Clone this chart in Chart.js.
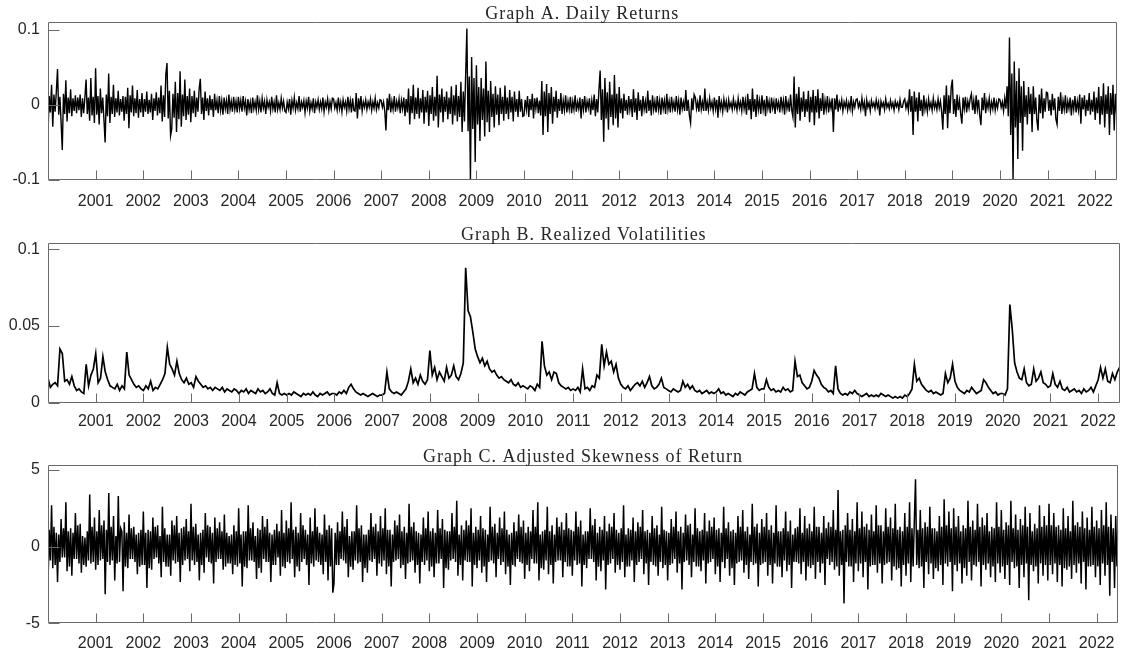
<!DOCTYPE html>
<html>
<head>
<meta charset="utf-8">
<script src="https://cdn.jsdelivr.net/npm/chart.js@4.4.1/dist/chart.umd.min.js"></script>
<style>
  html, body { margin: 0; padding: 0; background: #fff; }
  #wrap { position: relative; width: 1125px; height: 656px; overflow: hidden; }
  canvas { position: absolute; left: 0; }
</style>
</head>
<body>
<div id="wrap">
  <canvas id="chartA" width="1125" height="222" style="top:0"></canvas>
  <canvas id="chartB" width="1125" height="222" style="top:222px"></canvas>
  <canvas id="chartC" width="1125" height="212" style="top:444px"></canvas>
</div>
<script>
// values, starting Jan 2000; A and C at 40 per year, B at 20 per year
const firstYear = 2000;
const lastDate = 2022.45;

const yearTicks = [2001, 2002, 2003, 2004, 2005, 2006, 2007, 2008, 2009, 2010, 2011,
  2012, 2013, 2014, 2015, 2016, 2017, 2018, 2019, 2020, 2021, 2022];

// Graph A: daily returns (percent), 40 per year
const returnsPct = [
  -3.8, 1.2, -1.0, 2.7, -2.9, 1.4, -0.9, 1.8, 4.8, -1.3, 1.1, -2.3, -6.0, 1.5, -1.2, 3.3, -2.2, 1.0, -1.1, 2.1, -1.5, 0.9, -0.8, 1.3, -1.1, 1.0, -0.7, 1.4, -1.6, 0.9, -1.1, 1.0, 3.4, -1.2, 1.0, -2.1, 3.6, -1.4, 1.1, -2.4, // 2000
  4.9, -1.3, 1.2, -2.6, 2.2, -1.1, 1.0, -1.9, -5.0, 1.4, -1.5, 4.2, -2.4, 1.1, -1.2, 2.7, -1.6, 0.9, -1.0, 1.9, -1.4, 0.8, -0.9, 1.2, -2.1, 1.1, -1.2, 2.3, -3.1, 1.3, -1.0, 2.6, -1.5, 0.9, -1.1, 2.0, -1.7, 0.8, -1.0, 1.6, // 2001
  -1.6, 0.8, -0.9, 1.8, -1.2, 0.7, -1.0, 1.5, -2.0, 0.9, -0.8, 1.7, -1.4, 1.0, -1.1, 2.6, -2.2, 1.3, -1.6, 4.0, 5.6, -1.8, 1.9, -4.1, -3.2, 1.5, -1.7, 3.1, -3.6, 1.6, -1.9, 4.5, -2.9, 1.4, -1.5, 3.4, -2.0, 1.2, -1.3, 2.2, // 2002
  -2.3, 1.2, -1.1, 1.9, -1.6, 1.0, -0.9, 2.1, 3.5, -1.2, 1.0, -2.0, 1.8, -0.8, 0.9, -1.4, 1.3, -0.7, 0.8, -1.6, 1.5, -0.7, 0.6, -1.1, 1.2, -0.7, 0.6, -1.3, 1.0, -0.5, 0.6, -1.2, 1.4, -0.6, 0.5, -0.9, 1.1, -0.6, 0.5, -1.0, // 2003
  1.1, -0.5, 0.6, -0.9, 1.2, -0.4, 0.5, -1.4, 0.8, -0.6, 0.4, -1.1, 1.0, -0.5, 0.4, -0.7, 1.3, -0.6, 0.5, -1.0, 0.9, -0.4, 0.5, -1.2, 0.7, -0.3, 0.4, -0.8, 1.1, -0.5, 0.4, -1.0, 1.3, -0.6, 0.3, -0.6, 0.9, -0.4, 0.5, -0.8, // 2004
  -1.0, 0.4, -0.5, 0.8, -1.3, 0.6, -0.4, 1.0, -0.7, 0.3, -0.5, 1.2, -0.9, 0.4, -0.3, 0.6, -1.0, 0.5, -0.4, 1.1, -0.8, 0.3, -0.5, 0.9, -1.1, 0.4, -0.3, 0.7, -0.6, 0.4, -0.5, 1.0, -0.9, 0.4, -0.3, 0.8, -0.7, 0.4, -0.5, 0.9, // 2005
  0.8, -0.4, 0.3, -0.7, 1.0, -0.5, 0.4, -0.9, 0.7, -0.3, 0.4, -0.8, 1.1, -0.5, 0.6, -1.0, 0.9, -0.7, -0.8, 1.6, -1.8, 0.9, -0.6, 1.2, -0.8, 0.4, -0.3, 0.7, -0.6, 0.4, -0.3, 0.8, -0.7, 0.4, -0.4, 0.9, -0.6, 0.3, -0.4, 0.7, // 2006
  0.6, -0.3, 0.4, -0.8, -3.4, 0.9, -0.7, 1.5, -1.0, 0.5, -0.6, 1.2, -0.9, 0.5, -0.4, 0.8, -1.1, 0.6, -0.5, 1.0, -1.5, 0.8, -1.0, 2.2, -2.6, 1.2, -1.1, 2.7, -1.9, 1.0, -1.2, 2.3, -1.8, 0.9, -1.0, 2.0, -2.5, 1.1, -1.0, 1.9, // 2007
  -2.8, 1.3, -1.2, 2.4, -2.1, 1.1, -1.5, 3.9, -3.0, 1.4, -1.0, 2.2, -2.3, 1.1, -0.9, 1.8, -1.9, 1.0, -1.2, 2.5, -2.6, 1.3, -1.4, 2.7, -2.2, 1.2, -1.6, 3.1, -3.6, 1.8, -2.2, 4.2, 10.2, -3.5, 3.8, -10.0, 6.4, -3.2, 3.6, -7.6, // 2008
  5.3, -2.6, 2.4, -4.8, 3.6, -2.0, 2.2, -4.2, 5.8, -2.3, 1.9, -3.6, 3.2, -1.6, 1.5, -3.0, 2.5, -1.3, 1.4, -2.7, 2.3, -1.2, 1.1, -2.1, 2.6, -1.2, 1.0, -1.9, 2.0, -1.0, 1.1, -2.2, 1.8, -0.9, 0.8, -1.6, 1.9, -0.9, 0.8, -1.5, // 2009
  -1.4, 0.7, -0.6, 1.2, -1.6, 0.8, -0.7, 1.5, -1.8, 0.9, -0.5, 1.0, -1.1, 0.6, -1.4, 3.2, -4.0, 1.8, -1.5, 2.8, -3.6, 1.6, -1.2, 2.4, -2.5, 1.1, -0.9, 1.9, -1.7, 0.8, -0.8, 1.6, -1.2, 0.6, -0.7, 1.3, -1.0, 0.5, -0.6, 1.1, // 2010
  -1.1, 0.5, -0.6, 1.3, -0.9, 0.4, -0.5, 1.0, -1.8, 0.8, -0.6, 1.2, -1.0, 0.5, -0.4, 0.9, -1.3, 0.6, -0.7, 1.4, -1.5, 0.8, -1.0, 2.0, 4.6, -2.0, 2.1, -4.9, 3.6, -1.8, 1.7, -3.3, 3.1, -1.6, 1.4, -2.7, 4.0, -1.8, 1.5, -3.0, // 2011
  2.4, -1.1, 0.9, -1.8, 1.5, -0.8, 0.7, -1.3, 1.2, -0.6, 0.8, -1.6, 2.1, -1.0, 0.9, -2.0, 1.7, -0.8, 0.7, -1.5, 1.2, -0.6, 0.5, -1.1, 1.9, -0.8, 0.7, -1.4, 1.3, -0.6, 0.5, -1.0, 1.2, -0.6, 0.6, -1.3, 1.0, -0.5, 0.6, -1.2, // 2012
  1.5, -0.6, 0.5, -1.0, 1.1, -0.5, 0.4, -0.9, 1.2, -0.6, 0.6, -1.3, 1.0, -0.5, 0.4, -0.8, 2.0, -0.8, 0.7, -1.4, -2.4, 0.9, -0.7, 1.4, 1.0, -0.5, 0.4, -0.9, 1.3, -0.6, 0.4, -0.8, 2.2, -0.8, 0.4, -0.7, 0.9, -0.4, 0.4, -0.8, // 2013
  1.0, -0.5, 0.7, -1.7, 1.2, -0.5, 0.4, -0.9, 0.8, -0.4, 0.5, -1.0, 0.7, -0.3, 0.3, -0.6, 0.8, -0.4, 0.3, -0.7, 0.9, -0.4, 0.4, -0.8, 1.1, -0.5, 0.6, -1.3, 1.5, -0.7, 0.8, -1.9, 2.2, -0.9, 0.8, -1.6, 1.4, -0.6, 0.6, -1.2, // 2014
  1.3, -0.6, 0.7, -1.5, 1.2, -0.5, 0.5, -1.1, 1.0, -0.4, 0.5, -1.2, 0.9, -0.4, 0.4, -1.0, 1.1, -0.5, 0.6, -1.3, 1.2, -0.5, 0.4, -0.9, 1.4, -0.7, -1.6, 3.8, -3.0, 1.5, -1.2, 2.4, -2.1, 1.0, -0.9, 1.8, -1.6, 0.8, -0.9, 1.9, // 2015
  -2.3, 1.1, -1.0, 2.0, -2.7, 1.2, -1.0, 2.1, -1.8, 0.9, -0.8, 1.6, -1.3, 0.6, -0.6, 1.2, -1.0, 0.5, -0.4, 0.9, -3.6, 0.9, -0.6, 1.4, -0.9, 0.4, -0.3, 0.7, -0.8, 0.4, -0.3, 0.6, -0.7, 0.3, -0.5, 1.2, -0.8, 0.4, -0.3, 0.7, // 2016
  0.8, -0.3, 0.3, -0.6, 0.9, -0.4, 0.4, -1.5, 0.7, -0.3, 0.3, -0.8, 0.6, -0.2, 0.3, -0.5, 0.7, -0.3, 0.4, -1.4, 0.5, -0.2, 0.3, -0.6, 0.8, -0.3, 0.2, -0.5, 0.6, -0.3, 0.3, -0.7, 0.5, -0.2, 0.3, -0.6, 0.7, -0.3, -0.3, 0.5, // 2017
  0.8, -0.4, 0.3, -0.7, 2.1, -0.9, 1.2, -4.0, 1.8, -0.9, 1.0, -2.2, 1.7, -0.8, 0.7, -1.5, 1.3, -0.6, 0.4, -0.9, 0.8, -0.4, 0.3, -0.7, 0.9, -0.4, 0.3, -0.6, 0.8, -0.4, 0.5, -0.9, -3.3, 1.3, -1.2, 2.6, -3.1, 1.3, -1.1, 2.3, // 2018
  3.4, -1.2, 0.8, -1.6, 1.4, -0.7, 0.6, -1.2, -2.5, 1.0, -0.5, 1.1, -1.0, 0.5, -0.4, 0.9, 1.5, -0.7, 0.6, -1.2, 1.3, -0.6, 0.7, -1.4, -2.7, 1.0, -0.7, 1.6, -1.1, 0.5, -0.4, 0.9, -0.8, 0.4, -0.5, 1.0, -0.7, 0.4, -0.4, 0.8, // 2019
  0.7, -0.3, 0.4, -0.8, 0.9, -0.5, 2.5, -1.5, 9.0, -4.0, 4.2, -10.0, 5.8, -3.0, 3.2, -7.2, 4.9, -2.4, 2.5, -6.1, 3.2, -1.6, 1.3, -2.6, 2.4, -1.2, 1.5, -3.6, 2.5, -1.2, 1.0, -2.0, -3.4, 1.4, -1.1, 2.2, -1.8, 0.9, -0.9, 1.7, // 2020
  1.6, -0.8, 0.7, -1.4, 1.5, -0.7, 0.9, -1.9, -2.6, 1.1, -0.8, 1.7, -1.2, 0.6, -0.6, 1.3, -1.1, 0.5, -0.5, 1.0, -1.4, 0.7, -0.6, 1.2, -1.0, 0.5, -0.7, 1.4, -2.5, 1.0, -0.6, 1.3, -1.5, 0.7, -0.8, 1.6, -1.3, 0.7, -0.9, 1.8, // 2021
  -2.0, 1.0, -1.1, 2.4, -2.6, 1.2, -1.3, 2.9, -3.0, 1.4, -1.2, 2.5, -4.0, 1.6, -1.3, 2.7, -3.4, 1.5, -1.2, 2.6 // 2022
];

// Graph B: realized volatilities (percent), 20 per year
const volatilityPct = [
  1.6, 1.0, 1.2, 1.3, 1.1, 3.5, 3.2, 1.4, 1.5, 1.2, 1.7, 1.1, 0.8, 0.9, 0.7, 0.6, 2.5, 1.1, 1.8, 2.2, // 2000
  3.2, 1.3, 1.6, 3.0, 2.0, 1.5, 1.1, 1.0, 0.9, 1.2, 0.8, 1.1, 0.9, 3.3, 1.8, 1.5, 1.2, 1.0, 1.1, 0.9, // 2001
  0.8, 1.1, 0.9, 1.4, 0.8, 1.0, 0.9, 1.2, 1.5, 1.9, 3.6, 2.5, 2.2, 1.8, 2.7, 1.9, 1.5, 1.3, 1.6, 1.2, // 2002
  1.3, 1.0, 1.7, 1.4, 1.2, 1.0, 1.1, 0.9, 1.0, 0.8, 1.0, 0.9, 0.8, 1.0, 0.7, 0.9, 0.8, 0.7, 0.9, 0.8, // 2003
  0.6, 0.8, 0.7, 0.9, 0.6, 0.8, 0.7, 0.6, 0.9, 0.7, 0.8, 0.6, 0.7, 0.9, 0.6, 0.5, 1.3, 0.6, 0.5, 0.6, // 2004
  0.5, 0.6, 0.5, 0.7, 0.6, 0.5, 0.4, 0.6, 0.5, 0.6, 0.5, 0.7, 0.5, 0.4, 0.6, 0.5, 0.6, 0.7, 0.5, 0.6, // 2005
  0.6, 0.5, 0.7, 0.6, 0.8, 0.6, 1.0, 1.2, 0.9, 0.7, 0.6, 0.5, 0.6, 0.5, 0.4, 0.5, 0.6, 0.5, 0.4, 0.5, // 2006
  0.5, 0.6, 2.0, 0.9, 0.7, 0.6, 0.7, 0.6, 0.5, 0.7, 0.9, 1.4, 2.2, 1.3, 1.6, 1.2, 1.8, 1.4, 1.2, 1.5, // 2007
  3.4, 1.8, 2.3, 1.5, 2.0, 1.7, 1.4, 2.3, 1.6, 1.8, 2.4, 1.7, 1.5, 1.9, 2.6, 8.8, 6.0, 5.6, 4.6, 3.5, // 2008
  3.0, 2.6, 2.9, 2.4, 2.7, 2.2, 2.0, 2.1, 1.8, 1.6, 1.7, 1.5, 1.4, 1.3, 1.5, 1.2, 1.1, 1.3, 1.0, 1.1, // 2009
  1.0, 0.9, 1.1, 1.0, 0.8, 1.2, 1.0, 4.0, 2.4, 1.8, 2.0, 1.5, 2.0, 1.9, 1.3, 1.1, 1.0, 0.9, 1.0, 0.8, // 2010
  0.9, 0.8, 1.0, 0.7, 2.2, 0.9, 1.0, 0.8, 1.1, 1.0, 1.8, 1.6, 3.8, 2.4, 3.3, 2.5, 2.7, 2.0, 2.5, 1.6, // 2011
  1.2, 1.0, 0.9, 1.1, 0.8, 1.0, 1.2, 1.3, 1.1, 1.4, 1.0, 1.3, 1.7, 1.1, 0.9, 1.0, 1.2, 1.6, 1.0, 0.9, // 2012
  0.8, 0.7, 0.9, 0.8, 0.7, 0.8, 1.4, 1.0, 1.2, 0.9, 1.1, 0.8, 0.7, 0.8, 0.6, 0.7, 0.8, 0.6, 0.7, 0.6, // 2013
  0.7, 0.9, 0.6, 0.7, 0.5, 0.6, 0.5, 0.4, 0.6, 0.5, 0.7, 0.6, 0.5, 0.7, 0.8, 0.9, 1.9, 1.0, 0.8, 0.9, // 2014
  0.9, 1.5, 1.0, 0.8, 0.9, 0.7, 0.8, 0.7, 1.0, 0.8, 0.9, 0.7, 0.8, 2.7, 1.7, 1.8, 1.3, 1.1, 0.9, 1.0, // 2015
  1.4, 2.1, 1.8, 1.6, 1.2, 1.0, 0.9, 0.7, 0.8, 0.6, 2.4, 0.9, 0.6, 0.5, 0.6, 0.5, 0.7, 0.6, 0.8, 0.6, // 2016
  0.5, 0.4, 0.5, 0.6, 0.4, 0.5, 0.4, 0.5, 0.4, 0.6, 0.5, 0.4, 0.5, 0.4, 0.3, 0.4, 0.3, 0.4, 0.3, 0.5, // 2017
  0.4, 0.6, 0.9, 2.5, 1.4, 1.6, 1.2, 1.0, 0.8, 0.7, 0.8, 0.6, 0.7, 0.6, 0.5, 0.6, 1.9, 1.3, 1.6, 2.5, // 2018
  1.4, 1.0, 0.8, 0.7, 0.6, 0.8, 0.7, 1.0, 0.8, 0.6, 0.7, 0.8, 1.5, 1.3, 1.0, 0.8, 0.6, 0.7, 0.5, 0.6, // 2019
  0.6, 0.5, 0.9, 6.4, 4.8, 2.6, 2.0, 1.6, 1.5, 2.2, 1.3, 1.1, 1.2, 2.2, 1.4, 1.6, 2.0, 1.3, 1.2, 1.0, // 2020
  1.1, 1.9, 1.2, 1.0, 1.4, 0.9, 0.8, 1.0, 0.7, 0.8, 0.9, 0.7, 0.8, 0.6, 0.9, 0.7, 0.8, 1.0, 0.7, 1.1, // 2021
  1.5, 2.3, 1.6, 2.2, 1.4, 1.3, 1.9, 1.5, 2.0, 2.3 // 2022
];

// Graph C: adjusted skewness of return, 40 per year
const skewness = [
  -2.5, 1.1, -0.9, 2.7, -1.4, 1.3, -1.2, 0.9, -2.3, 0.8, -1.0, 1.8, -0.7, 1.2, -0.7, 2.9, -1.6, 1.0, -1.3, 1.2, -1.9, 0.9, -0.8, 2.2, -0.8, 1.4, -1.1, 1.5, -1.7, 0.7, -1.2, 0.6, -1.3, 1.0, -0.9, 3.4, -1.1, 1.3, -1.0, 1.9, // 2000
  -1.5, 1.0, -1.2, 2.4, -0.9, 1.4, -0.8, 1.7, -3.1, 1.1, -1.0, 3.5, -1.2, 1.3, -0.9, 2.0, -2.2, 0.7, -1.1, 3.3, -1.0, 1.2, 1.0, -2.9, 1.6, -1.3, 0.9, -1.4, 2.1, -0.8, 1.2, -0.8, 1.3, -1.0, 0.8, -1.8, 0.9, -1.3, 1.1, -1.2, // 2001
  2.3, -1.2, 0.9, -2.7, 1.1, -1.4, 1.0, -1.5, 1.9, -0.8, 1.3, -0.7, 1.4, -1.1, 0.7, -2.0, 2.6, -1.0, 1.2, -1.3, 0.8, -1.3, 0.8, -1.9, 1.7, -0.9, 1.4, -1.1, 2.0, -1.0, 0.9, -2.3, 1.2, -1.2, 1.3, -0.9, 1.8, -0.8, 1.0, -1.6, // 2002
  2.8, -0.9, 1.3, -1.2, 1.5, -1.0, 0.8, -2.2, 0.9, -1.2, 1.1, -1.7, 2.2, -0.7, 1.4, -1.0, 1.3, -1.1, 0.9, -2.4, 1.9, -1.0, 1.2, -0.8, 1.6, -0.8, 1.0, -1.5, 2.1, -1.3, 0.9, -1.1, 0.7, -1.1, 0.8, -1.8, 1.4, -1.2, 1.0, -1.3, // 2003
  2.5, -1.1, 0.8, -2.6, 1.0, -1.3, 1.0, -1.4, 2.7, -0.9, 1.2, -0.9, 1.6, -1.0, 0.7, -2.1, 1.2, -1.4, 1.1, -1.7, 2.0, -0.8, 1.3, -1.0, 1.8, -1.0, 0.9, -2.3, 0.8, -1.2, 1.1, -1.2, 1.5, -0.7, 1.0, -1.9, 2.4, -1.3, 0.9, -1.4, // 2004
  1.7, -1.0, 1.2, -1.1, 2.9, -0.8, 1.1, -2.0, 1.3, -1.3, 0.9, -1.6, 2.2, -1.0, 1.4, -0.8, 1.1, -1.2, 0.8, -2.5, 1.9, -1.1, 1.0, -1.3, 2.5, -0.9, 1.3, -1.0, 0.9, -1.2, 0.8, -1.8, 2.1, -1.0, 1.1, -2.2, 1.4, -1.3, 1.2, -3.0, // 2005
  -2.4, 0.9, -1.2, 1.6, -1.2, 1.0, -0.8, 2.3, -0.9, 1.3, -1.1, 1.8, -2.0, 0.7, -1.3, 1.0, -1.5, 1.0, -0.9, 2.7, -1.1, 1.2, -1.0, 1.4, -2.3, 0.8, -1.4, 0.8, -1.7, 1.1, -0.9, 2.2, -1.0, 1.3, -0.8, 1.5, -1.9, 1.0, -1.1, 2.0, // 2006
  -1.3, 1.2, -0.9, 2.5, -1.8, 1.1, -1.3, 1.1, -2.6, 0.8, -1.0, 1.7, -0.9, 1.4, -0.8, 2.1, -1.4, 1.0, -1.2, 1.3, -2.1, 0.9, -1.1, 2.8, -1.0, 1.3, -0.9, 1.6, -1.7, 1.0, -1.2, 0.9, -2.4, 0.8, -1.0, 1.9, -1.2, 1.2, -0.9, 2.3, // 2007
  -1.6, 1.0, -1.3, 1.2, -2.0, 0.9, -1.1, 2.4, -1.1, 1.2, -0.8, 1.8, -2.7, 1.1, -1.4, 1.0, -1.5, 1.0, -0.9, 2.2, -0.8, 1.3, -1.0, 3.0, -1.9, 0.8, -1.2, 1.4, -2.2, 1.1, -0.9, 1.7, -1.0, 1.4, -1.0, 2.5, -2.6, 0.9, -1.2, 1.3, // 2008
  -1.4, 1.1, -0.9, 2.0, -1.7, 1.2, -1.3, 1.1, -2.3, 0.8, -1.0, 2.6, -0.9, 1.3, -1.1, 1.5, -2.0, 0.9, -0.8, 1.9, -1.2, 1.2, -1.0, 2.3, -1.8, 1.1, -1.3, 0.8, -2.5, 0.9, -1.2, 1.6, -1.3, 1.0, -0.8, 2.1, -1.0, 1.3, -1.1, 1.7, // 2009
  -2.1, 0.9, -1.2, 1.3, -1.6, 1.0, -0.8, 2.4, -1.1, 1.3, -1.1, 2.9, -2.2, 0.8, -1.4, 1.0, -1.5, 1.1, -0.9, 2.6, -1.8, 1.0, -1.2, 1.4, -2.4, 0.8, -1.0, 1.9, -0.9, 1.3, -0.9, 1.6, -2.0, 1.1, -1.0, 2.2, -1.3, 1.2, -1.3, 1.1, // 2010
  -1.9, 1.0, -0.9, 2.3, -1.2, 1.3, -1.1, 1.7, -2.6, 0.8, -1.2, 1.0, -1.4, 1.0, -0.8, 2.5, -0.8, 1.4, -1.0, 1.8, -2.2, 0.9, -1.3, 1.3, -1.6, 1.1, -0.9, 2.0, -2.8, 1.0, -1.2, 1.5, -1.1, 1.3, -0.8, 2.2, -1.7, 1.1, -1.2, 0.9, // 2011
  -1.5, 1.2, -1.0, 2.7, -2.0, 0.8, -1.3, 1.2, -1.3, 1.1, -0.9, 1.9, -2.3, 1.0, -1.2, 1.6, -1.0, 1.3, -0.8, 2.4, -1.8, 1.0, -1.1, 1.1, -2.5, 0.9, -1.0, 2.0, -1.2, 1.2, -1.3, 1.4, -1.9, 0.8, -1.0, 2.6, -1.4, 1.1, -1.2, 1.0, // 2012
  -2.2, 0.9, -1.2, 1.8, -1.1, 1.3, -0.8, 2.3, -1.7, 1.0, -1.1, 1.3, -2.8, 0.9, -1.0, 2.1, -0.9, 1.4, -1.2, 1.5, -2.0, 0.8, -1.0, 2.5, -1.3, 1.2, -1.3, 1.0, -1.6, 1.1, -0.9, 2.2, -2.4, 1.0, -1.1, 1.7, -1.0, 1.3, -0.8, 1.9, // 2013
  -1.8, 1.1, -1.3, 1.2, -2.3, 0.9, -1.0, 2.6, -1.4, 1.2, -0.8, 1.6, -1.9, 1.0, -1.4, 1.1, -2.5, 0.9, -1.1, 2.0, -1.0, 1.3, -0.9, 2.4, -1.7, 1.0, -1.2, 1.3, -2.1, 0.8, -1.0, 2.8, -1.2, 1.3, -1.1, 1.5, -2.6, 0.9, -1.2, 1.8, // 2014
  -1.1, 1.3, -1.0, 2.2, -1.9, 1.1, -1.2, 1.4, -2.4, 0.9, -1.1, 2.7, -1.3, 1.0, -1.3, 1.0, -2.0, 1.2, -0.9, 2.3, -1.6, 1.0, -1.2, 1.7, -2.7, 0.8, -1.0, 1.2, -1.0, 1.3, -1.1, 2.5, -1.8, 0.9, -1.0, 2.0, -2.2, 1.2, -1.3, 1.5, // 2015
  -1.4, 1.0, -1.2, 2.6, -2.1, 1.3, -1.0, 1.3, -1.7, 0.9, -1.1, 2.0, -2.5, 1.2, -0.8, 1.6, -1.2, 1.3, -1.0, 2.4, -1.5, 1.1, -1.3, 3.7, -1.9, 1.0, -1.2, 1.1, -3.7, 1.4, -1.0, 2.2, -1.3, 1.1, -1.3, 1.8, -2.3, 1.0, -1.1, 2.9, // 2016
  -1.6, 1.2, -1.1, 2.3, -2.0, 1.3, -1.0, 1.5, -2.8, 1.1, -1.3, 2.1, -1.2, 1.0, -1.2, 2.7, -1.7, 1.4, -1.1, 1.4, -2.4, 1.0, -1.2, 2.5, -1.1, 1.3, -1.0, 1.9, -2.2, 1.2, -1.3, 2.8, -1.5, 1.1, -1.4, 1.3, -2.6, 1.0, -1.2, 2.2, // 2017
  -1.9, 1.3, -1.1, 2.9, -2.3, 1.2, -1.3, 1.7, 4.4, -1.2, 1.1, -1.4, 2.4, -1.3, 1.2, -2.7, 1.6, -1.0, 1.3, -1.8, 2.6, -1.1, 1.2, -2.1, 1.2, -1.4, 1.0, -1.6, 2.0, -1.2, 1.3, -2.5, 3.1, -1.1, 1.4, -1.3, 2.3, -1.0, 1.2, -2.9, // 2018
  2.5, -1.2, 1.3, -1.6, 2.0, -1.1, 1.0, -2.4, 1.4, -1.4, 1.2, -1.9, 3.0, -1.0, 1.3, -2.2, 1.7, -1.2, 1.1, -1.3, 2.8, -1.0, 1.3, -2.6, 1.9, -1.2, 1.4, -1.5, 2.2, -1.1, 1.0, -2.0, 1.3, -1.3, 1.2, -2.3, 2.9, -1.1, 1.3, -1.7, // 2019
  2.4, -1.3, 1.1, -2.1, 1.6, -1.2, 1.4, -2.5, 3.0, -1.0, 1.2, -1.4, 2.1, -1.3, 1.1, -2.7, 1.8, -1.2, 1.4, -2.0, 2.6, -1.1, 1.3, -3.5, 2.2, -1.2, 1.0, -1.6, 1.5, -1.3, 1.2, -2.4, 2.7, -1.1, 1.3, -1.9, 2.0, -1.2, 1.4, -2.2, // 2020
  2.8, -1.2, 1.4, -1.8, 2.2, -1.1, 1.3, -2.3, 1.4, -1.2, 1.1, -2.6, 2.5, -1.4, 1.2, -1.5, 2.0, -1.3, 1.0, -2.1, 3.0, -1.2, 1.4, -1.7, 1.6, -1.1, 1.3, -2.4, 2.3, -1.0, 1.2, -2.8, 1.9, -1.3, 1.1, -1.3, 2.6, -1.2, 1.3, -2.0, // 2021
  1.7, -1.3, 1.2, -2.5, 2.4, -1.1, 1.4, -1.9, 2.9, -1.2, 1.3, -3.2, 2.1, -1.0, 1.2, -2.7, 2.0, -1.3, 1.1, -1.6 // 2022
];

const titleA = 'Graph A. Daily Returns';
const titleB = 'Graph B. Realized Volatilities';
const titleC = 'Graph C. Adjusted Skewness of Return';

const yTicksA = [-0.1, 0, 0.1];
const yLabelsA = ['-0.1', '0', '0.1'];
const yTicksB = [0, 0.05, 0.1];
const yLabelsB = ['0', '0.05', '0.1'];
const yTicksC = [-5, 0, 5];
const yLabelsC = ['-5', '0', '5'];

Chart.defaults.font.family = '"Liberation Sans", Arial, sans-serif';
Chart.defaults.font.size = 16;
Chart.defaults.color = '#262626';

// box around the plot area, inward tick marks and the serif title
const framePlugin = {
  id: 'frame',
  afterDraw(chart, args, opts) {
    const { ctx, chartArea: a, scales } = chart;
    const left = Math.round(a.left) + 0.5;
    const top = Math.round(a.top) + 0.5;
    const right = Math.round(a.right) - 0.5;
    const bottom = Math.round(a.bottom) - 0.5;
    ctx.save();
    ctx.strokeStyle = '#6a6a6a';
    ctx.lineWidth = 1;
    ctx.beginPath();
    ctx.rect(left, top, right - left, bottom - top);
    scales.x.ticks.forEach(t => {
      const px = Math.round(scales.x.getPixelForValue(t.value)) + 0.5;
      ctx.moveTo(px, bottom);
      ctx.lineTo(px, bottom - 9);
    });
    scales.y.ticks.forEach(t => {
      const py = Math.round(scales.y.getPixelForValue(t.value)) + 0.5;
      ctx.moveTo(left, py);
      ctx.lineTo(left + 11, py);
    });
    ctx.stroke();

    ctx.fillStyle = '#262626';
    ctx.font = '18px "Liberation Serif", "Times New Roman", serif';
    ctx.letterSpacing = '1px';
    ctx.textAlign = 'center';
    ctx.textBaseline = 'alphabetic';
    ctx.fillText(opts.title, (a.left + a.right) / 2, a.top - 3);
    ctx.restore();
  }
};

function makePanel(id, title, points, lineWidth, yMin, yMax, yTicks, yLabels, padTop, xAxisHeight, labelPad) {
  return new Chart(document.getElementById(id), {
    type: 'line',
    data: {
      datasets: [{
        data: points,
        borderColor: '#000',
        borderWidth: lineWidth,
        pointRadius: 0,
        fill: false,
        tension: 0
      }]
    },
    options: {
      responsive: false,
      animation: false,
      layout: { padding: { top: padTop, right: 2.3, left: 0, bottom: 0 } },
      scales: {
        x: {
          type: 'linear',
          min: firstYear,
          max: lastDate,
          grid: { display: false, drawTicks: false },
          border: { display: false },
          ticks: { padding: labelPad, autoSkip: false, maxRotation: 0, callback: v => String(v) },
          afterBuildTicks: s => { s.ticks = yearTicks.map(v => ({ value: v })); },
          afterFit: s => { s.height = xAxisHeight; }
        },
        y: {
          min: yMin,
          max: yMax,
          grid: { display: false, drawTicks: false },
          border: { display: false },
          ticks: { padding: 8, callback: (v, i) => yLabels[i] },
          afterBuildTicks: s => { s.ticks = yTicks.map(v => ({ value: v })); },
          afterFit: s => { s.width = 48; }
        }
      },
      plugins: {
        legend: { display: false },
        tooltip: { enabled: false },
        frame: { title: title }
      }
    },
    plugins: [framePlugin]
  });
}

const toPoints = (values, scale, perYear) =>
  values.map((v, i) => ({ x: firstYear + i / perYear, y: v * scale }));

makePanel('chartA', titleA, toPoints(returnsPct, 0.01, 40), 1.4, -0.1, 0.1107, yTicksA, yLabelsA, 22, 42, 12);
makePanel('chartB', titleB, toPoints(volatilityPct, 0.01, 20), 1.7, 0, 0.1039, yTicksB, yLabelsB, 21.3, 41.3, 9);
makePanel('chartC', titleC, toPoints(skewness, 1, 40), 1.5, -5, 5.33, yTicksC, yLabelsC, 21, 32.7, 10.5);
</script>
</body>
</html>
